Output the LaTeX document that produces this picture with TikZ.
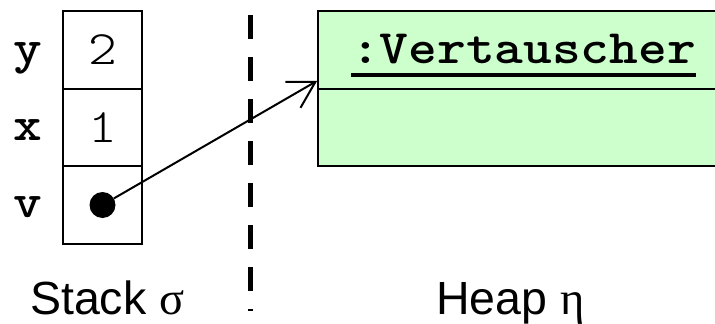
\documentclass[tikz,border=0pt]{standalone}
\usepackage{fontspec}
\setmainfont{Liberation Sans}
\newfontfamily\greekf{Liberation Serif}
\newfontfamily\courr{lmmonolt10-regular.otf}[FakeStretch=1.14]
\newfontfamily\courb{lmmonolt10-bold.otf}[FakeStretch=1.14]
\usetikzlibrary{arrows.meta,calc}
\definecolor{heapgreen}{HTML}{CCFFCC}
\tikzset{
  cell/.style={draw=black, line width=1.6pt, minimum width=79pt, minimum height=77.5pt, inner sep=0pt,
    font=\courr\fontsize{48}{50}\selectfont},
  varlabel/.style={anchor=base, inner sep=0pt, font=\courb\fontsize{48}{50}\selectfont},
  heapbox/.style={draw=black, line width=1.6pt, fill=heapgreen, minimum width=411pt, inner sep=0pt},
  caption/.style={anchor=base west, inner sep=0pt, font=\fontsize{46.5}{50}\selectfont},
  divider/.style={line width=5.5pt, dash pattern=on 24pt off 18pt},
  refarrow/.style={line width=2pt, -{Straight Barb[angle=60:30pt, line width=2pt]}}
}
\begin{document}
\begin{tikzpicture}[x=1pt, y=-1pt]
\useasboundingbox (0,0) rectangle (715,324);
\clip (0,0) rectangle (715,324);
% stack cells
\node[cell] (cy) at (102.5,50) {2};
\node[cell] (cx) at (102.5,127.5) {1};
\node[cell] (cv) at (102.5,205) {};
\node[varlabel] (ly) at (27.5,63) {y};
\node[varlabel] (lx) at (27.5,140) {x};
\node[varlabel] (lv) at (27.5,217) {v};
\node[circle, fill=black, minimum size=26pt, inner sep=0pt] (dot) at (cv.center) {};
% dashed separator
\coordinate (dtop) at (250.5,15);
\coordinate (dbot) at (250.5,311);
\draw[divider] (dtop) -- (dbot);
% heap object
\node[heapbox, minimum height=78pt] (hdr) at (523.5,50) {};
\node[heapbox, minimum height=77pt] (hbody) at (523.5,127.5) {};
\node[anchor=base, inner sep=0pt, font=\courb\fontsize{48}{50}\selectfont] (cls) at (523.5,63) {:Vertauscher};
\draw[line width=4pt] ($(cls.base west)+(0,12)$) -- ($(cls.base east)+(0,12)$);
% reference
\coordinate (tip) at ($(hdr.south west)+(0,-9)$);
\draw[refarrow] (dot) -- (tip);
% captions
\node[caption] (stk) at (30,314) {Stack {\greekf σ}};
\node[caption] (hp) at (436,314) {Heap {\greekf η}};
\end{tikzpicture}
\end{document}
